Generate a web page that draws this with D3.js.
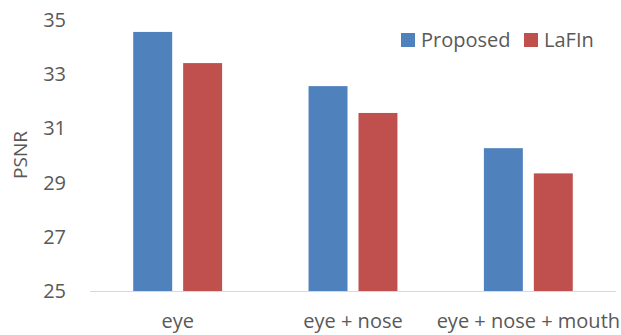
<!DOCTYPE html>
<html>
<head>
<script src="https://d3js.org/d3.v7.min.js"></script>
<style>
  body { margin: 0; background: #fff; }
  text { font-family: "Open Sans", sans-serif; fill: #595959; }
</style>
</head>
<body>
<div id="chart"></div>
<script>
// chart data
const categories = ["eye", "eye + nose", "eye + nose + mouth"];
const seriesNames = ["Proposed", "LaFIn"];
const proposed = [34.56, 32.56, 30.27];
const lafin = [33.41, 31.57, 29.34];
const yTicks = [25, 27, 29, 31, 33, 35];
const colors = ["#4F81BD", "#C0504D"];

const width = 621, height = 335;
const margin = { left: 90, right: 5, top: 20, bottom: 44 };

const svg = d3.select("#chart").append("svg")
    .attr("width", width)
    .attr("height", height);

const x0 = d3.scaleBand()
    .domain(categories)
    .range([margin.left, 616])
    .paddingInner(0.493)
    .paddingOuter(0.2465);

const x1 = d3.scaleBand()
    .domain(seriesNames)
    .range([0, x0.bandwidth()])
    .paddingInner(0.22);

const y = d3.scaleLinear()
    .domain([25, 35])
    .range([291, 20]);

// y tick labels
svg.append("g")
    .selectAll("text")
    .data(yTicks)
    .join("text")
    .attr("x", 66)
    .attr("y", d => y(d))
    .attr("dy", "0.35em")
    .attr("text-anchor", "end")
    .attr("font-size", 20)
    .text(d => d);

// y axis title
svg.append("text")
    .attr("transform", "translate(27,155) rotate(-90)")
    .attr("text-anchor", "middle")
    .attr("font-size", 19)
    .text("PSNR");

// bars
const rows = categories.map((c, i) => ({ cat: c, vals: [proposed[i], lafin[i]] }));
const groups = svg.append("g")
    .selectAll("g")
    .data(rows)
    .join("g")
    .attr("transform", d => `translate(${x0(d.cat)},0)`);

groups.selectAll("rect")
    .data(d => d.vals.map((v, j) => ({ name: seriesNames[j], v: v, j: j })))
    .join("rect")
    .attr("x", d => x1(d.name))
    .attr("y", d => y(d.v))
    .attr("width", x1.bandwidth())
    .attr("height", d => y(25) - y(d.v))
    .attr("fill", d => colors[d.j]);

// baseline
svg.append("line")
    .attr("x1", margin.left).attr("x2", 616)
    .attr("y1", y(25) + 0.5).attr("y2", y(25) + 0.5)
    .attr("stroke", "#D9D9D9")
    .attr("stroke-width", 1);

// category labels (kept just inside the bottom edge)
svg.append("g")
    .selectAll("text")
    .data(categories)
    .join("text")
    .attr("x", d => x0(d) + x0.bandwidth() / 2)
    .attr("y", 328)
    .attr("text-anchor", "middle")
    .attr("font-size", 20)
    .text(d => d);

// legend
const legendX = [401, 524];
const legend = svg.append("g")
    .selectAll("g")
    .data(seriesNames)
    .join("g")
    .attr("transform", (d, i) => `translate(${legendX[i]},33)`);

legend.append("rect")
    .attr("width", 14).attr("height", 14)
    .attr("fill", (d, i) => colors[i]);

legend.append("text")
    .attr("x", 20)
    .attr("y", 14)
    .attr("font-size", 20)
    .text(d => d);
</script>
</body>
</html>
